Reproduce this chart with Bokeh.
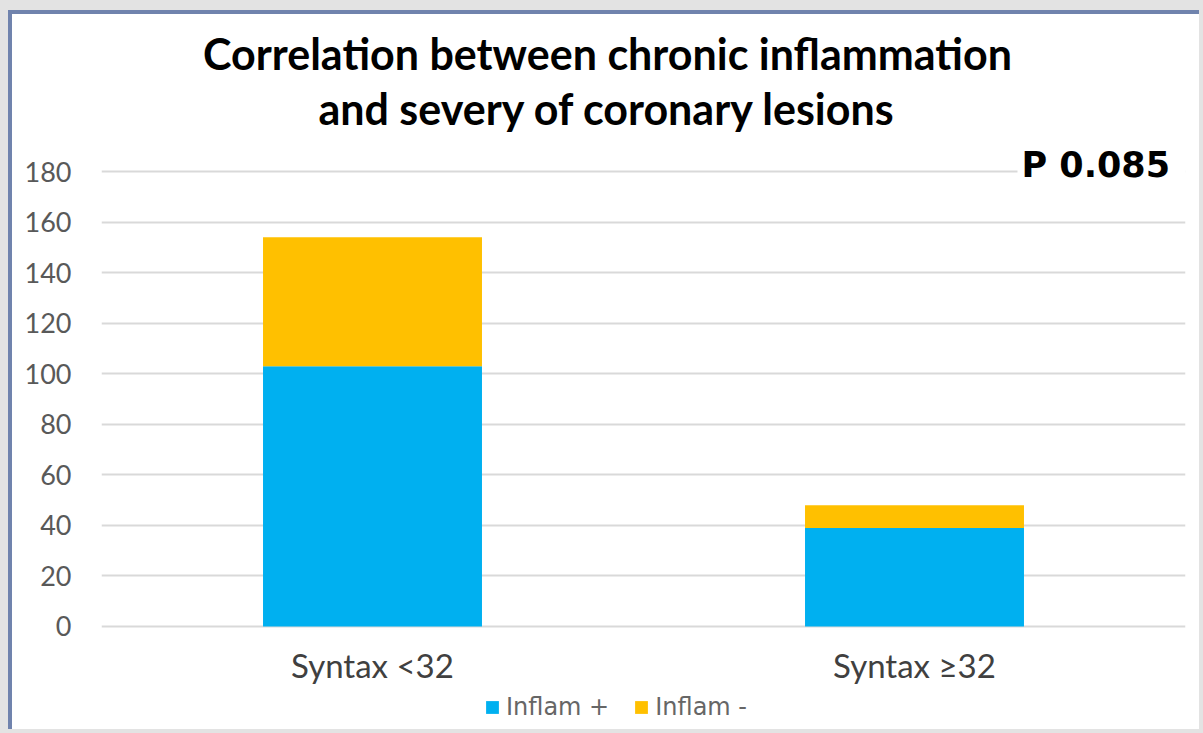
from bokeh.plotting import figure
from bokeh.models import (FactorRange, Range1d, FixedTicker, Label, Legend, LegendItem)
from bokeh.core.properties import value
from bokeh.embed import file_html
from bokeh.resources import INLINE

categories = ["Syntax <32", "Syntax \u226532"]
series_names = ["Inflam +", "Inflam -"]
inflam_pos = [103, 39]
inflam_neg = [51, 9]
y_ticks = [0, 20, 40, 60, 80, 100, 120, 140, 160, 180]
title_lines = ["Correlation between chronic inflammation", "and severy of coronary lesions"]
p_value_text = "P 0.085"
colors = ["#00B0F0", "#FFC000"]

data = {"cat": categories, "pos": inflam_pos, "neg": inflam_neg}

# The frame covers the whole chart area (title and legend included), so that
# no annotation is clipped; only the ticks 0..180 are drawn.
p = figure(x_range=FactorRange(factors=categories), y_range=Range1d(-42.33, 242.11),
           width=1191, height=719, output_backend="svg", toolbar_location=None,
           x_axis_location=None,
           min_border_left=89, min_border_right=18, min_border_top=0, min_border_bottom=0)
p.styles = {"border-top": "4px solid #7083ad", "border-left": "4px solid #7083ad",
            "margin-top": "10px", "margin-left": "8px", "background-color": "white"}
p.background_fill_color = "white"
p.border_fill_color = "white"
p.outline_line_color = None

rs = p.vbar_stack(["pos", "neg"], x="cat", width=0.404, color=colors, source=data, line_color=None)

p.xgrid.grid_line_color = None
p.ygrid.grid_line_color = "#d9d9d9"
p.ygrid.grid_line_width = 2
p.yaxis.ticker = FixedTicker(ticks=y_ticks)
p.yaxis.axis_line_color = None
p.yaxis.major_tick_line_color = None
p.yaxis.minor_tick_line_color = None
p.yaxis.major_label_text_font = "Lato"
p.yaxis.major_label_text_font_size = "27px"
p.yaxis.major_label_text_color = "#595959"
p.yaxis.major_label_standoff = 24

# category labels under the bars
p.text(x=categories, y=[-15.4] * len(categories), text=categories,
       text_align="center", text_baseline="middle",
       text_font=value("Lato"), text_font_size="33px", text_color="#404040")

for txt, yy in zip(title_lines, [680, 625]):
    p.add_layout(Label(x=506, y=yy, x_units="screen", y_units="screen", text=txt,
                       text_align="center", text_baseline="alphabetic",
                       text_font="Lato", text_font_style="bold", text_font_size="43px",
                       text_color="#000000"))

p.add_layout(Label(x=916, y=568, x_units="screen", y_units="screen", text=p_value_text,
                   text_align="left", text_baseline="alphabetic",
                   text_font="DejaVu Sans", text_font_style="bold", text_font_size="35px",
                   text_color="#000000", background_fill_color="white",
                   padding=(4, 22, 4, 5)))

legend = Legend(items=[LegendItem(label=series_names[0], renderers=[rs[0]]),
                       LegendItem(label=series_names[1], renderers=[rs[1]])],
                orientation="horizontal", location=(383, 12))
legend.border_line_color = None
legend.background_fill_alpha = 0
legend.padding = 0
legend.margin = 0
legend.spacing = 24
legend.label_standoff = 6
legend.glyph_width = 16
legend.glyph_height = 16
legend.label_text_font = "DejaVu Sans"
legend.label_text_font_size = "24px"
legend.label_text_color = "#666666"
p.add_layout(legend)

html = file_html(p, INLINE)
html = html.replace("<head>", "<head><style>html,body{background:#e3e3e3;overflow:hidden}</style>", 1)
open("out.html", "w").write(html)
